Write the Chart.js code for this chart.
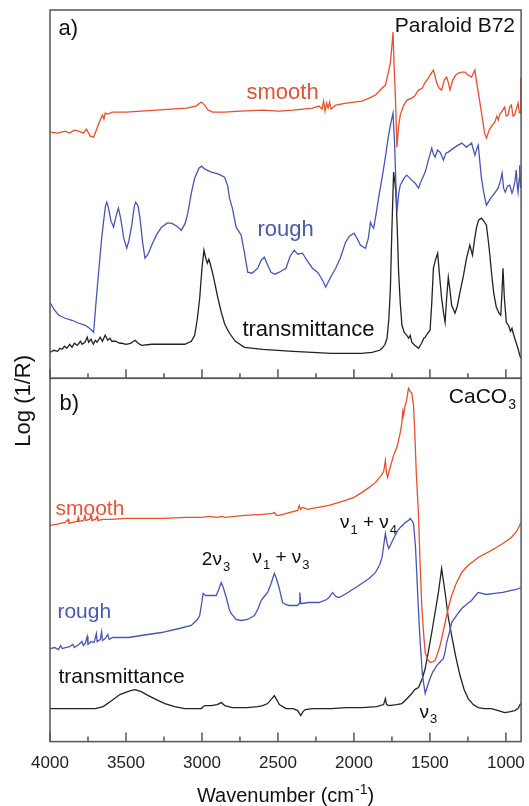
<!DOCTYPE html>
<html>
<head>
<meta charset="utf-8">
<script src="https://cdn.jsdelivr.net/npm/chart.js@4.4.1/dist/chart.umd.min.js"></script>
<style>
  html, body { margin: 0; padding: 0; background: #fff; }
  #wrap { width: 529px; height: 806px; position: relative; }
</style>
</head>
<body>
<div id="wrap"><canvas id="spectra"></canvas></div>
<script>
// x ticks (wavenumber, cm-1), axis runs from high to low
var xTicks = [4000, 3500, 3000, 2500, 2000, 1500, 1000];
var minorTicks = [3750, 3250, 2750, 2250, 1750, 1250];

// a) Paraloid B72 - smooth surface, reflectance
var aSmoothWn = [3997,3950,3900,3870,3840,3811,3780,3760,3735,3713,3690,3670,3655,3645,3637,3620,3590,3500,3400,3300,3200,3100,3040,3004,2982,2960,2930,2850,2750,2600,2491,2400,2273,2230,2210,2200,2190,2180,2170,2160,2150,2120,2050,1946,1900,1858,1820,1793,1770,1760,1750,1743,1735,1728,1717,1706,1695,1675,1652,1620,1600,1575,1550,1530,1510,1499,1477,1466,1455,1440,1423,1405,1390,1378,1368,1350,1330,1313,1290,1269,1250,1226,1204,1195,1182,1160,1140,1128,1110,1090,1073,1060,1050,1040,1030,1008,998,986,975,964,953,942,930,920,912,906,904,901];
var aSmoothVal = [2.46,2.45,2.47,2.45,2.48,2.47,2.45,2.49,2.42,2.41,2.50,2.58,2.63,2.59,2.65,2.64,2.66,2.66,2.67,2.68,2.69,2.70,2.72,2.76,2.73,2.68,2.66,2.66,2.67,2.68,2.67,2.68,2.70,2.72,2.69,2.77,2.67,2.75,2.70,2.76,2.69,2.73,2.75,2.77,2.80,2.83,2.89,2.93,3.08,3.16,3.32,3.46,3.10,2.85,2.31,2.52,2.63,2.72,2.78,2.80,2.82,2.88,2.90,2.96,3.00,3.03,3.08,3.02,2.95,2.90,2.88,2.98,3.01,2.95,2.88,2.98,3.03,3.05,3.06,3.06,3.03,3.01,3.08,2.98,2.86,2.65,2.45,2.40,2.48,2.53,2.56,2.62,2.58,2.64,2.66,2.71,2.62,2.63,2.71,2.73,2.62,2.63,2.70,2.75,2.66,2.65,3.00,2.75];

// a) rough surface
var aRoughWn = [3997,3970,3942,3900,3855,3810,3768,3740,3713,3695,3680,3660,3648,3635,3626,3615,3600,3582,3565,3550,3535,3515,3495,3480,3462,3445,3436,3420,3408,3390,3375,3355,3331,3300,3266,3230,3200,3165,3135,3110,3092,3070,3048,3020,3004,2980,2938,2890,2851,2830,2819,2800,2775,2742,2720,2699,2670,2633,2610,2590,2570,2546,2520,2491,2470,2447,2420,2393,2370,2339,2310,2273,2240,2218,2200,2186,2170,2150,2120,2090,2055,2030,2000,1980,1957,1924,1905,1891,1880,1870,1850,1837,1815,1793,1775,1760,1743,1732,1725,1717,1705,1695,1670,1652,1620,1597,1575,1555,1531,1510,1488,1477,1466,1450,1433,1411,1395,1379,1335,1291,1259,1226,1204,1190,1182,1161,1145,1128,1100,1084,1051,1035,1025,1015,1004,990,975,960,953,940,932,925,920,912,909,903];
var aRoughVal = [0.75,0.68,0.63,0.60,0.58,0.55,0.53,0.50,0.46,0.80,1.06,1.40,1.56,1.72,1.76,1.70,1.58,1.51,1.62,1.70,1.60,1.40,1.30,1.38,1.53,1.72,1.76,1.72,1.60,1.35,1.20,1.24,1.33,1.43,1.51,1.55,1.55,1.52,1.48,1.55,1.66,1.85,2.00,2.10,2.12,2.09,2.06,2.04,2.01,1.92,1.80,1.70,1.51,1.43,1.25,1.06,1.05,1.10,1.18,1.21,1.14,1.06,1.04,1.06,1.08,1.10,1.22,1.28,1.24,1.25,1.18,1.10,1.06,1.01,0.96,0.91,0.96,1.02,1.10,1.20,1.36,1.42,1.45,1.40,1.33,1.30,1.40,1.56,1.52,1.50,1.68,1.81,2.00,2.21,2.40,2.53,2.65,2.33,2.00,1.66,1.85,1.93,2.00,2.03,1.98,1.95,1.90,1.98,2.06,2.18,2.30,2.24,2.21,2.28,2.26,2.18,2.25,2.26,2.31,2.35,2.31,2.35,2.23,2.30,2.33,2.00,1.85,1.73,1.80,1.83,1.90,1.98,2.05,1.90,1.86,1.92,1.93,1.85,1.88,1.97,2.08,1.92,1.86,2.00,2.13,1.90];

// a) transmittance
var aTransWn = [3997,3975,3950,3935,3920,3905,3890,3870,3855,3840,3820,3800,3789,3770,3755,3746,3730,3715,3702,3690,3670,3655,3637,3620,3605,3593,3570,3540,3527,3500,3470,3440,3420,3397,3330,3266,3200,3113,3070,3048,3030,3015,3000,2987,2975,2965,2955,2945,2930,2917,2895,2873,2850,2819,2780,2720,2600,2502,2400,2273,2150,2055,1950,1881,1830,1815,1795,1782,1770,1760,1750,1739,1730,1724,1715,1706,1695,1684,1670,1652,1640,1630,1619,1600,1575,1555,1540,1531,1515,1499,1488,1477,1460,1449,1435,1423,1410,1400,1390,1379,1368,1357,1335,1320,1302,1280,1259,1237,1220,1205,1194,1180,1161,1145,1128,1110,1095,1080,1063,1045,1034,1026,1019,1010,997,980,970,960,950,942,925,903];
var aTransVal = [0.26,0.28,0.27,0.30,0.29,0.32,0.30,0.34,0.31,0.35,0.33,0.37,0.34,0.36,0.41,0.36,0.39,0.34,0.38,0.36,0.41,0.37,0.43,0.38,0.40,0.37,0.37,0.35,0.35,0.34,0.35,0.38,0.35,0.33,0.34,0.34,0.34,0.34,0.37,0.43,0.60,0.80,1.10,1.28,1.20,1.15,1.19,1.14,1.05,0.96,0.80,0.66,0.54,0.45,0.37,0.31,0.29,0.28,0.27,0.26,0.25,0.25,0.25,0.26,0.28,0.30,0.34,0.40,0.60,0.90,1.50,2.06,1.95,1.86,1.50,1.06,0.75,0.53,0.46,0.43,0.40,0.43,0.36,0.33,0.30,0.35,0.40,0.41,0.45,0.48,0.75,1.10,1.20,1.25,1.00,0.80,0.65,0.56,0.80,1.01,0.88,0.73,0.65,0.72,0.86,1.02,1.20,1.33,1.23,1.40,1.50,1.58,1.60,1.57,1.53,1.30,1.06,0.85,0.71,0.65,0.63,0.85,1.10,0.80,0.56,0.52,0.47,0.50,0.44,0.40,0.32,0.20];

// b) CaCO3 - smooth surface
var bSmoothWn = [3997,3960,3930,3900,3880,3875,3850,3820,3815,3810,3780,3770,3765,3740,3730,3725,3700,3690,3685,3650,3600,3500,3400,3266,3100,3004,2950,2900,2870,2850,2720,2600,2535,2524,2510,2491,2420,2370,2360,2350,2340,2300,2273,2164,2055,2000,1946,1900,1858,1820,1804,1793,1785,1778,1765,1739,1715,1695,1685,1678,1673,1665,1655,1641,1630,1619,1608,1600,1590,1575,1565,1553,1540,1531,1515,1499,1480,1466,1450,1433,1400,1380,1357,1330,1291,1250,1182,1120,1073,1020,964,930,903];
var bSmoothVal = [2.16,2.17,2.18,2.19,2.22,2.18,2.19,2.20,2.24,2.20,2.21,2.26,2.21,2.22,2.26,2.21,2.22,2.25,2.21,2.22,2.22,2.23,2.23,2.23,2.24,2.24,2.25,2.24,2.25,2.24,2.26,2.27,2.28,2.29,2.26,2.26,2.29,2.31,2.36,2.32,2.34,2.32,2.33,2.36,2.41,2.44,2.49,2.54,2.59,2.66,2.70,2.81,2.68,2.64,2.72,2.86,2.95,3.09,3.18,3.30,3.26,3.35,3.40,3.53,3.50,3.48,3.36,3.10,2.70,2.26,1.80,1.33,1.05,0.89,0.82,0.79,0.80,0.81,0.88,0.96,1.19,1.33,1.46,1.57,1.69,1.76,1.84,1.89,1.93,1.98,2.04,2.10,2.18];

// b) rough surface
var bRoughWn = [3997,3970,3945,3930,3920,3899,3870,3850,3840,3810,3790,3780,3768,3755,3750,3730,3710,3695,3690,3670,3660,3655,3637,3620,3610,3590,3560,3484,3400,3266,3150,3070,3030,3015,3000,2993,2975,2940,2906,2890,2873,2860,2840,2820,2808,2775,2742,2700,2655,2630,2611,2590,2568,2545,2524,2510,2491,2470,2450,2426,2371,2360,2356,2350,2339,2300,2229,2180,2164,2140,2120,2098,2050,1968,1900,1858,1830,1815,1805,1793,1782,1771,1755,1739,1715,1695,1662,1640,1630,1615,1608,1595,1586,1575,1564,1549,1531,1515,1499,1480,1455,1430,1411,1400,1390,1370,1357,1320,1291,1260,1226,1200,1182,1130,1073,1020,964,930,903];
var bRoughVal = [0.93,0.94,0.92,0.96,0.93,0.94,0.95,0.97,0.94,0.97,1.00,0.96,0.98,1.05,0.97,1.00,0.99,1.08,1.00,1.02,1.10,1.01,1.03,1.07,1.02,1.04,1.04,1.04,1.06,1.09,1.13,1.16,1.22,1.26,1.40,1.48,1.46,1.46,1.46,1.52,1.59,1.54,1.44,1.32,1.28,1.22,1.21,1.22,1.26,1.33,1.41,1.45,1.49,1.58,1.68,1.63,1.53,1.39,1.37,1.36,1.36,1.38,1.49,1.38,1.38,1.39,1.39,1.42,1.44,1.49,1.45,1.44,1.48,1.56,1.63,1.69,1.77,1.84,1.95,2.08,1.98,1.93,1.98,2.03,2.10,2.14,2.19,2.21,2.23,2.20,2.18,1.95,1.66,1.30,0.99,0.66,0.48,0.56,0.63,0.70,0.76,0.80,0.83,0.90,0.99,1.10,1.19,1.27,1.33,1.37,1.41,1.46,1.49,1.47,1.48,1.49,1.51,1.52,1.54];

// b) transmittance
var bTransWn = [3997,3850,3702,3650,3593,3540,3506,3470,3440,3400,3353,3300,3244,3180,3113,3004,2990,2982,2940,2900,2873,2850,2800,2700,2633,2600,2568,2540,2524,2505,2491,2447,2400,2370,2350,2335,2320,2273,2150,2050,1946,1850,1805,1793,1785,1770,1720,1684,1650,1619,1600,1575,1550,1531,1510,1488,1466,1444,1423,1400,1380,1357,1330,1302,1275,1248,1215,1182,1140,1095,1050,1008,970,942,920,903];
var bTransVal = [0.33,0.33,0.33,0.35,0.41,0.47,0.49,0.51,0.52,0.50,0.46,0.42,0.38,0.35,0.33,0.33,0.35,0.36,0.36,0.37,0.39,0.36,0.34,0.34,0.35,0.36,0.38,0.43,0.46,0.41,0.37,0.33,0.33,0.31,0.26,0.30,0.32,0.33,0.33,0.34,0.34,0.35,0.37,0.43,0.37,0.36,0.37,0.38,0.43,0.48,0.52,0.54,0.63,0.73,0.90,1.09,1.29,1.49,1.73,1.49,1.25,1.06,0.85,0.66,0.52,0.43,0.37,0.34,0.33,0.33,0.31,0.29,0.30,0.31,0.33,0.38];

var RED = '#e6502c';
var BLUE = '#4756b0';
var BLACK = '#222222';

function pts(wn, val) {
    var out = [];
    for (var i = 0; i < wn.length; i++) out.push({x: wn[i], y: val[i]});
    return out;
}
function line(label, wn, val, color, axis) {
    return {
        label: label,
        data: pts(wn, val),
        yAxisID: axis,
        borderColor: color,
        borderWidth: 1.3,
        pointRadius: 0,
        fill: false,
        tension: 0
    };
}

// text drawn inside the panels: [axis, wavenumber, value, align, size, color, parts]
// parts: [text, 0 = normal, 1 = subscript, 2 = superscript]
var notes = [
    ['ya', 3944, 3.43, 'left', 22, '#111', [['a)', 0]]],
    ['ya', 940, 3.46, 'right', 21, '#111', [['Paraloid B72', 0]]],
    ['ya', 2707, 2.79, 'left', 22, '#e0553a', [['smooth', 0]]],
    ['ya', 2635, 1.42, 'left', 22, '#4a59a8', [['rough', 0]]],
    ['ya', 2734, 0.42, 'left', 22, '#111', [['transmittance', 0]]],
    ['yb', 3938, 3.31, 'left', 22, '#111', [['b)', 0]]],
    ['yb', 934, 3.38, 'right', 21, '#111', [['CaCO', 0], ['3', 1]]],
    ['yb', 3964, 2.26, 'left', 21, '#e0553a', [['smooth', 0]]],
    ['yb', 3951, 1.23, 'left', 21, '#4a59a8', [['rough', 0]]],
    ['yb', 3944, 0.59, 'left', 21, '#111', [['transmittance', 0]]],
    ['yb', 3001, 1.76, 'left', 19, '#111', [['2\u03bd', 0], ['3', 1]]],
    ['yb', 2668, 1.78, 'left', 19, '#111', [['\u03bd', 0], ['1', 1], [' + \u03bd', 0], ['3', 1]]],
    ['yb', 2092, 2.13, 'left', 19, '#111', [['\u03bd', 0], ['1', 1], [' + \u03bd', 0], ['4', 1]]],
    ['yb', 1569, 0.24, 'left', 19, '#111', [['\u03bd', 0], ['3', 1]]]
];

var FONT = '"Liberation Sans", Arial, sans-serif';

function richWidth(ctx, parts, size) {
    var w = 0;
    parts.forEach(function (p) {
        ctx.font = (p[1] ? Math.round(size * 0.68) : size) + 'px ' + FONT;
        w += ctx.measureText(p[0]).width + (p[1] ? 1 : 0);
    });
    return w;
}
function drawRich(ctx, parts, x, y, size, align, color) {
    var w = richWidth(ctx, parts, size);
    var cx = align === 'right' ? x - w : (align === 'center' ? x - w / 2 : x);
    ctx.fillStyle = color;
    ctx.textAlign = 'left';
    ctx.textBaseline = 'alphabetic';
    parts.forEach(function (p) {
        var s = p[1] ? Math.round(size * 0.68) : size;
        ctx.font = s + 'px ' + FONT;
        var dy = p[1] === 1 ? size * 0.28 : (p[1] === 2 ? -size * 0.42 : 0);
        if (p[1]) cx += 1;
        ctx.fillText(p[0], cx, y + dy);
        cx += ctx.measureText(p[0]).width;
    });
}

var framePlugin = {
    id: 'frames',
    afterDatasetsDraw: function (chart) {
        var ctx = chart.ctx;
        var xs = chart.scales.x;
        var area = chart.chartArea;
        ctx.save();
        ctx.strokeStyle = '#555';
        ctx.lineWidth = 1.5;
        ['ya', 'yb'].forEach(function (id) {
            var s = chart.scales[id];
            ctx.strokeRect(area.left, s.top, area.right - area.left, s.bottom - s.top);
            ctx.beginPath();
            xTicks.concat(minorTicks).forEach(function (v) {
                var px = xs.getPixelForValue(v);
                var len = xTicks.indexOf(v) >= 0 ? 9 : 5;
                ctx.moveTo(px, s.bottom);
                ctx.lineTo(px, s.bottom - len);
            });
            ctx.stroke();
        });

        notes.forEach(function (n) {
            var px = xs.getPixelForValue(n[1]);
            var py = chart.scales[n[0]].getPixelForValue(n[2]);
            drawRich(ctx, n[6], px, py, n[4], n[3], n[5]);
        });

        // axis titles
        var midX = (area.left + area.right) / 2;
        drawRich(ctx, [['Wavenumber (cm', 0], ['-1', 2], [')', 0]], midX, chart.height - 4, 20, 'center', '#111');

        ctx.translate(area.left - 20, (area.top + area.bottom) / 2 + 25);
        ctx.rotate(-Math.PI / 2);
        drawRich(ctx, [['Log (1/R)', 0]], 0, 0, 22, 'center', '#111');
        ctx.restore();
    }
};

var ctx = document.getElementById('spectra').getContext('2d');
var chart = new Chart(ctx, {
    type: 'line',
    data: {
        datasets: [
            line('a smooth', aSmoothWn, aSmoothVal, RED, 'ya'),
            line('a rough', aRoughWn, aRoughVal, BLUE, 'ya'),
            line('a transmittance', aTransWn, aTransVal, BLACK, 'ya'),
            line('b smooth', bSmoothWn, bSmoothVal, RED, 'yb'),
            line('b rough', bRoughWn, bRoughVal, BLUE, 'yb'),
            line('b transmittance', bTransWn, bTransVal, BLACK, 'yb')
        ]
    },
    options: {
        responsive: true,
        maintainAspectRatio: false,
        animation: false,
        layout: {
            padding: {left: 50, right: 6, top: 10, bottom: 28}
        },
        plugins: {
            legend: {display: false},
            tooltip: {enabled: false}
        },
        scales: {
            x: {
                type: 'linear',
                reverse: true,
                min: 900,
                max: 4000,
                grid: {display: false},
                border: {display: false},
                afterBuildTicks: function (scale) {
                    scale.ticks = xTicks.map(function (v) { return {value: v}; });
                },
                ticks: {
                    autoSkip: false,
                    maxRotation: 0,
                    padding: 4,
                    color: '#222',
                    font: {family: FONT, size: 17},
                    callback: function (v) { return String(v); }
                }
            },
            // listed bottom panel first: stacked boxes are placed in reverse
            yb: {
                type: 'linear',
                display: false,
                stack: 'panels',
                stackWeight: 363,
                min: 0,
                max: 3.63
            },
            ya: {
                type: 'linear',
                display: false,
                stack: 'panels',
                stackWeight: 368,
                min: 0,
                max: 3.68
            }
        }
    },
    plugins: [framePlugin]
});
</script>
</body>
</html>
